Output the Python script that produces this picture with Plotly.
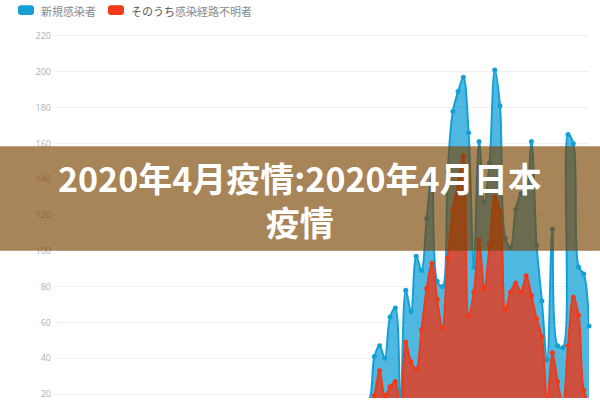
import plotly.graph_objects as go

# ---- data: Tokyo daily cases, 2020-01-24 .. 2020-05-05 ----
dates = [
    "01-24","01-25","01-26","01-27","01-28","01-29","01-30","01-31",
    "02-01","02-02","02-03","02-04","02-05","02-06","02-07","02-08","02-09","02-10",
    "02-11","02-12","02-13","02-14","02-15","02-16","02-17","02-18","02-19","02-20",
    "02-21","02-22","02-23","02-24","02-25","02-26","02-27","02-28","02-29",
    "03-01","03-02","03-03","03-04","03-05","03-06","03-07","03-08","03-09","03-10",
    "03-11","03-12","03-13","03-14","03-15","03-16","03-17","03-18","03-19","03-20",
    "03-21","03-22","03-23","03-24","03-25","03-26","03-27","03-28","03-29","03-30",
    "03-31","04-01","04-02","04-03","04-04","04-05","04-06","04-07","04-08","04-09",
    "04-10","04-11","04-12","04-13","04-14","04-15","04-16","04-17","04-18","04-19",
    "04-20","04-21","04-22","04-23","04-24","04-25","04-26","04-27","04-28","04-29",
    "04-30","05-01","05-02","05-03","05-04","05-05",
]

new_cases = [
    1, 1, 0, 0, 0, 0, 1, 2,
    0, 0, 0, 0, 0, 0, 0, 0, 0, 0,
    0, 0, 1, 2, 8, 5, 0, 3, 3, 0,
    3, 1, 0, 3, 0, 1, 1, 2, 0,
    1, 0, 2, 3, 8, 6, 0, 2, 1, 2,
    5, 6, 2, 3, 2, 1, 7, 9, 7, 11,
    7, 7, 16, 17, 41, 47, 40, 63, 68, 13,
    78, 66, 97, 89, 118, 143, 83, 80, 144, 178,
    189, 197, 166, 91, 161, 127, 149, 201, 181, 107,
    102, 123, 132, 134, 161, 103, 72, 39, 112, 47,
    46, 165, 160, 91, 87, 58,
]

unknown_route = [
    0, 0, 0, 0, 0, 0, 0, 1,
    0, 0, 0, 0, 0, 0, 0, 0, 0, 0,
    0, 0, 1, 1, 3, 2, 0, 1, 2, 0,
    1, 0, 0, 1, 0, 1, 0, 1, 0,
    0, 0, 1, 1, 3, 2, 0, 1, 0, 1,
    2, 3, 1, 1, 1, 0, 4, 5, 3, 6,
    4, 4, 9, 10, 19, 33, 19, 24, 27, 8,
    49, 38, 34, 56, 79, 93, 73, 57, 96, 123,
    138, 153, 64, 77, 106, 79, 103, 130, 122, 67,
    77, 82, 77, 86, 75, 62, 52, 15, 43, 27,
    14, 47, 74, 64, 22, 15,
]

series_names = ["新規感染者", "そのうち感染経路不明者"]
legend_labels = ["新規感染者", "<span style='color:#555'>そのうち</span>感染経路不明者"]
line_colors = ["rgb(20,160,215)", "rgb(240,58,25)"]
fill_colors = ["rgba(20,160,215,0.75)", "rgba(235,55,25,0.8)"]
y_ticks = [20, 40, 60, 80, 100, 120, 140, 160, 180, 200, 220]
title_text = "2020年4月疫情:2020年4月日本<br>疫情"

# ---- layout geometry (window pixels) ----
W, H = 600, 400
PLOT_L, PLOT_R, PLOT_T, PLOT_B = 55, 589, 30, 400
ML, MR, MT, MB = PLOT_L, W - PLOT_R, PLOT_T, H - PLOT_B
PW, PH = W - ML - MR, H - MT - MB


def px_x(p):
    return (p - PLOT_L) / PW


def px_y(p):
    return (PLOT_B - p) / PH


def rounded_rect(x0, y0, x1, y1, r):
    rx = r / PW
    ry = r / PH
    X0, X1 = px_x(x0), px_x(x1)
    Y0, Y1 = px_y(y0), px_y(y1)  # Y0 is top (larger)
    return (f"M {X0+rx},{Y0} L {X1-rx},{Y0} Q {X1},{Y0} {X1},{Y0-ry} "
            f"L {X1},{Y1+ry} Q {X1},{Y1} {X1-rx},{Y1} L {X0+rx},{Y1} "
            f"Q {X0},{Y1} {X0},{Y1+ry} L {X0},{Y0-ry} Q {X0},{Y0} {X0+rx},{Y0} Z")


fig = go.Figure()
for name, ys, lc, fc in zip(series_names, [new_cases, unknown_route], line_colors, fill_colors):
    fig.add_trace(go.Scatter(
        x=dates, y=ys, name=name, mode="lines+markers",
        line=dict(color=lc, width=2, shape="spline", smoothing=1.0),
        marker=dict(color=lc, size=5),
        fill="tozeroy", fillcolor=fc,
        cliponaxis=False, showlegend=False,
    ))

shapes = []
annotations = []

# legend
leg_pos = [(18, 39), (108, 129)]
for (sx, tx), lab, lc in zip(leg_pos, legend_labels, line_colors):
    shapes.append(dict(type="path", xref="paper", yref="paper",
                       path=rounded_rect(sx, 5, sx + 16, 15, 3),
                       fillcolor=lc, line=dict(width=0)))
    annotations.append(dict(xref="paper", yref="paper", x=px_x(tx), y=px_y(10.5),
                            xanchor="left", yanchor="middle", showarrow=False,
                            text=lab, font=dict(size=11, color="#8a8a8a",
                                                family="Noto Sans CJK JP")))

# banner overlay
shapes.append(dict(type="rect", xref="paper", yref="paper",
                   x0=px_x(0), x1=px_x(W), y0=px_y(252), y1=px_y(147),
                   fillcolor="rgba(122,66,0,0.65)", line=dict(width=0), layer="above"))
annotations.append(dict(xref="paper", yref="paper", x=px_x(300), y=px_y(200),
                        xanchor="center", yanchor="middle", showarrow=False,
                        text=f"<b>{title_text}</b>",
                        font=dict(size=34, color="white", family="Noto Sans CJK SC")))

fig.update_layout(
    width=W, height=H,
    margin=dict(l=ML, r=MR, t=MT, b=MB, pad=0),
    paper_bgcolor="white", plot_bgcolor="white",
    xaxis=dict(type="category", visible=False, range=[0, len(dates) - 1]),
    yaxis=dict(range=[220 - (PLOT_B - 36) / 1.8, 220 + (36 - PLOT_T) / 1.8],
               tickvals=y_ticks, showgrid=True, gridcolor="#f0f0f0", gridwidth=1,
               zeroline=False, showline=False, ticks="",
               tickfont=dict(size=9, color="#b0b0b0", family="Open Sans"),
               ticklabelstandoff=3, ticklabeloverflow="allow"),
    shapes=shapes, annotations=annotations,
)

fig.write_html("out.html", config={"displayModeBar": False},
               post_script="document.body.style.margin='0px';")
